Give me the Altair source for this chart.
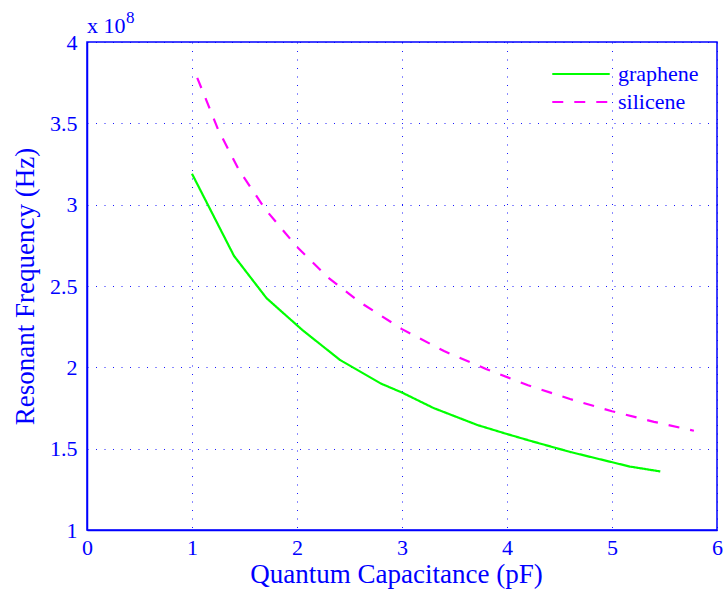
import altair as alt
import pandas as pd

# Values in units of 1e8 Hz
graphene_x = [1.00, 1.40, 1.71, 2.05, 2.41, 2.80, 3.00, 3.30, 3.72, 4.00, 4.24, 4.60, 4.98, 5.17, 5.46]
graphene_y = [3.19, 2.685, 2.425, 2.23, 2.045, 1.90, 1.845, 1.75, 1.645, 1.59, 1.545, 1.48, 1.42, 1.39, 1.36]

silicene_x = [1.05, 1.25, 1.45, 1.70, 2.00, 2.30, 2.60, 3.00, 3.40, 3.80, 4.20, 4.60, 5.00, 5.40, 5.78]
silicene_y = [3.78, 3.46, 3.21, 2.97, 2.74, 2.55, 2.40, 2.235, 2.10, 1.99, 1.89, 1.805, 1.73, 1.665, 1.61]

series_names = ["graphene", "silicene"]
series_colors = ["#00FF00", "#FF00FF"]

x_ticks = [0, 1, 2, 3, 4, 5, 6]
y_ticks = [1, 1.5, 2, 2.5, 3, 3.5, 4]

rows = []
for i, (x, y) in enumerate(zip(graphene_x, graphene_y)):
    rows.append({"series": "graphene", "C": x, "f": y, "order": i})
for i, (x, y) in enumerate(zip(silicene_x, silicene_y)):
    rows.append({"series": "silicene", "C": x, "f": y, "order": i})
df = pd.DataFrame(rows)

BLUE = "#0000FF"
FONT = "Liberation Serif"

lines = alt.Chart(df).mark_line(strokeWidth=2.2).encode(
    x=alt.X("C:Q", scale=alt.Scale(domain=[0, 6], nice=False),
            axis=alt.Axis(values=x_ticks, title="Quantum Capacitance (pF)", format="~g",
                          titlePadding=3, labelPadding=7, labelFlush=False, titleX=309)),
    y=alt.Y("f:Q", scale=alt.Scale(domain=[1, 4], nice=False, zero=False),
            axis=alt.Axis(values=y_ticks, title="Resonant Frequency (Hz)", format="~g",
                          titlePadding=10, labelPadding=10, labelFlush=False)),
    color=alt.Color("series:N", scale=alt.Scale(domain=series_names, range=series_colors),
                    legend=alt.Legend(title=None, orient="none", legendX=464, legendY=18,
                                      symbolType="stroke", symbolSize=3300,
                                      symbolStrokeWidth=2.2, clipHeight=28,
                                      labelFont=FONT, labelFontSize=22, labelColor=BLUE,
                                      labelOffset=7, padding=0, rowPadding=0)),
    strokeDash=alt.StrokeDash("series:N", scale=alt.Scale(domain=series_names,
                                                         range=[[1, 0], [11, 11]]),
                              legend=None),
    order="order:Q",
)

exp_base = alt.Chart(pd.DataFrame({"t": ["x 10"]})).mark_text(
    align="left", baseline="alphabetic", font=FONT, fontSize=22, color=BLUE
).encode(text="t:N", x=alt.value(0), y=alt.value(-9))

exp_sup = alt.Chart(pd.DataFrame({"t": ["8"]})).mark_text(
    align="left", baseline="alphabetic", font=FONT, fontSize=17, color=BLUE
).encode(text="t:N", x=alt.value(39), y=alt.value(-19))

chart = alt.layer(lines, exp_base, exp_sup).properties(
    width=630, height=488,
    background="white",
    autosize=alt.AutoSizeParams(type="none"),
    padding={"left": 87, "top": 42, "right": 8, "bottom": 69},
).configure_view(
    stroke=BLUE, strokeWidth=1.5
).configure_axis(
    domainColor=BLUE, domainWidth=1.5,
    ticks=False,
    labelFont=FONT, labelFontSize=22, labelColor=BLUE,
    titleFont=FONT, titleFontSize=27, titleColor=BLUE, titleFontWeight="normal",
    grid=True, gridColor=BLUE, gridDash=[1, 7.5], gridWidth=1, gridOpacity=0.9,
)

chart.save("out.html", embed_options={"renderer": "svg", "actions": False})
